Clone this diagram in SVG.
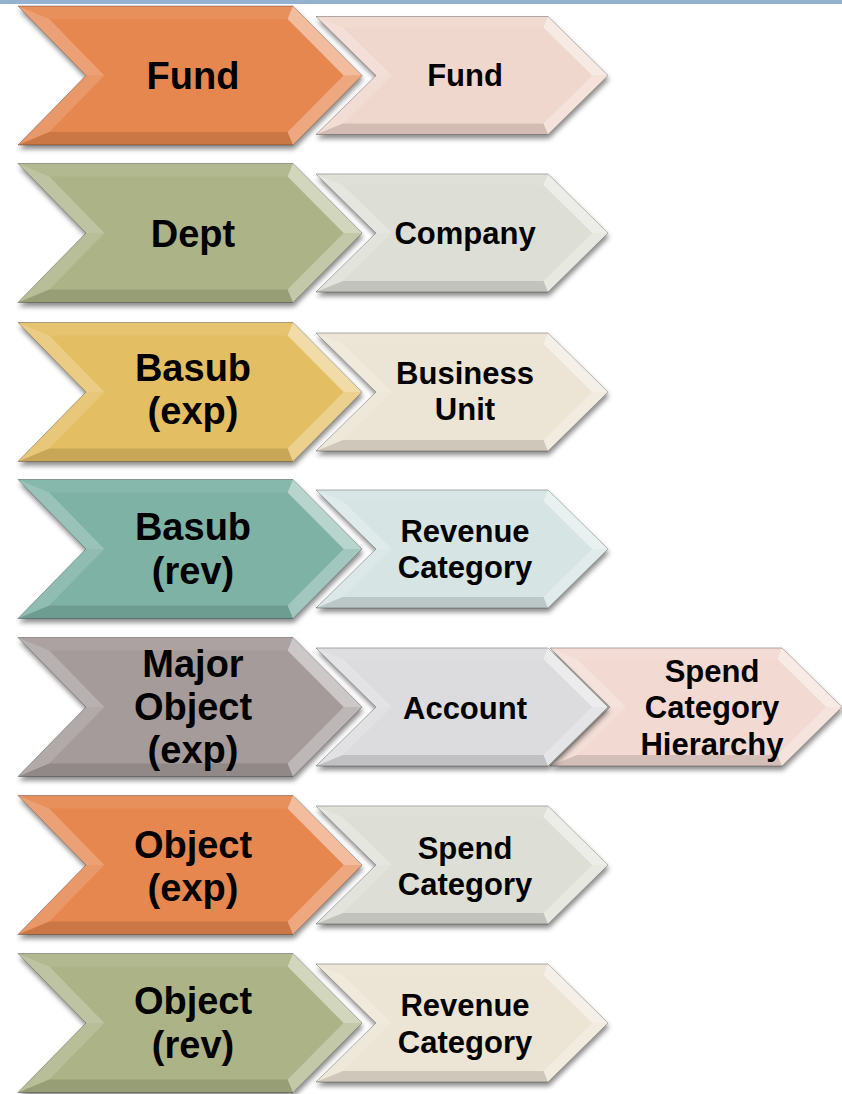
<svg xmlns="http://www.w3.org/2000/svg" xmlns:xlink="http://www.w3.org/1999/xlink" width="842" height="1094" viewBox="0 0 842 1094">
<style>
.t{font-family:"Liberation Sans",Arial,sans-serif;font-weight:bold;fill:#000;text-anchor:middle}
.big{font-size:38px}
.sm{font-size:31px}
.base{stroke:#000;stroke-opacity:0.3;stroke-width:1;filter:url(#sh)}
.hl1{fill:#fff;fill-opacity:0.45}
.hl2{fill:#fff;fill-opacity:0.28}
.hl4{fill:#fff;fill-opacity:0.22}
.hl3{fill:#fff;fill-opacity:0.15}
.hl0{fill:#fff;fill-opacity:0.08}
.dk{fill:#000;fill-opacity:0.12}
.orange{fill:#E6874F}
.olive{fill:#ACB487}
.gold{fill:#E4BE64}
.teal{fill:#7DB2A5}
.mauve{fill:#A59B9B}
.pink{fill:#F0D7CD}
.greylt{fill:#DDDFD6}
.cream{fill:#ECE4D4}
.aqua{fill:#D6E4E4}
.silver{fill:#DCDCDE}
.pink2{fill:#F2DAD2}
</style>
<defs>
<filter id="sh" x="-5%" y="-10%" width="112%" height="130%">
<feDropShadow dx="1" dy="4" stdDeviation="2.5" flood-color="#000" flood-opacity="0.45"/>
</filter>
<path id="bigShape" d="M18,-69.5 L293,-69.5 L362,0 L293,69.5 L18,69.5 L86,0 Z"/>
<g id="bigBevel">
<path class="hl0" d="M18,-69.5 L293,-69.5 L287.6,-56.5 L49.2,-56.5 Z"/>
<path class="hl1" d="M293,-69.5 L362,0 L343.7,0 L287.6,-56.5 Z"/>
<path class="hl2" d="M362,0 L293,69.5 L287.6,56.5 L343.7,0 Z"/>
<path class="dk" d="M293,69.5 L18,69.5 L49.2,56.5 L287.6,56.5 Z"/>
<path class="hl3" d="M18,69.5 L86,0 L104.3,0 L49.2,56.5 Z"/>
<path class="hl4" d="M86,0 L18,-69.5 L49.2,-56.5 L104.3,0 Z"/>
</g>
<path id="smShape" d="M316,-59 L548,-59 L608,0 L548,59 L316,59 L376,0 Z"/>
<g id="smBevel">
<path class="hl0" d="M316,-59 L548,-59 L543.5,-48 L342.9,-48 Z"/>
<path class="hl1" d="M548,-59 L608,0 L592.3,0 L543.5,-48 Z"/>
<path class="hl2" d="M608,0 L548,59 L543.5,48 L592.3,0 Z"/>
<path class="dk" d="M548,59 L316,59 L342.9,48 L543.5,48 Z"/>
<path class="hl3" d="M316,59 L376,0 L391.7,0 L342.9,48 Z"/>
<path class="hl4" d="M376,0 L316,-59 L342.9,-48 L391.7,0 Z"/>
</g>
</defs>
<rect x="0" y="0" width="842" height="4" fill="#95B3D0"/>
<g id="connectors"/>

<!-- Row 1 -->
<g id="fund-target">
<g transform="translate(0,75.5)"><use xlink:href="#smShape" class="base pink"/><use xlink:href="#smBevel"/></g>
<text class="t sm" x="465" y="86">Fund</text>
</g>
<g id="fund-source">
<g transform="translate(0,75.5)"><use xlink:href="#bigShape" class="base orange"/><use xlink:href="#bigBevel"/></g>
<text class="t big" x="193" y="89">Fund</text>
</g>

<!-- Row 2 -->
<g id="company-target">
<g transform="translate(0,233)"><use xlink:href="#smShape" class="base greylt"/><use xlink:href="#smBevel"/></g>
<text class="t sm" x="465" y="244">Company</text>
</g>
<g id="dept-source">
<g transform="translate(0,233)"><use xlink:href="#bigShape" class="base olive"/><use xlink:href="#bigBevel"/></g>
<text class="t big" x="193" y="247">Dept</text>
</g>

<!-- Row 3 -->
<g id="business-unit-target">
<g transform="translate(0,392)"><use xlink:href="#smShape" class="base cream"/><use xlink:href="#smBevel"/></g>
<text class="t sm" x="465" y="384">Business</text>
<text class="t sm" x="465" y="420">Unit</text>
</g>
<g id="basub-exp-source">
<g transform="translate(0,392)"><use xlink:href="#bigShape" class="base gold"/><use xlink:href="#bigBevel"/></g>
<text class="t big" x="193" y="381">Basub</text>
<text class="t big" x="193" y="424">(exp)</text>
</g>

<!-- Row 4 -->
<g id="revenue-category-target-1">
<g transform="translate(0,549)"><use xlink:href="#smShape" class="base aqua"/><use xlink:href="#smBevel"/></g>
<text class="t sm" x="465" y="542">Revenue</text>
<text class="t sm" x="465" y="578">Category</text>
</g>
<g id="basub-rev-source">
<g transform="translate(0,549)"><use xlink:href="#bigShape" class="base teal"/><use xlink:href="#bigBevel"/></g>
<text class="t big" x="193" y="540">Basub</text>
<text class="t big" x="193" y="584">(rev)</text>
</g>

<!-- Row 5 -->
<g id="spend-category-hierarchy-target">
<g transform="translate(234,707)"><use xlink:href="#smShape" class="base pink2"/><use xlink:href="#smBevel"/></g>
<text class="t sm" x="712" y="682">Spend</text>
<text class="t sm" x="712" y="718">Category</text>
<text class="t sm" x="712" y="755">Hierarchy</text>
</g>
<g id="account-target">
<g transform="translate(0,707)"><use xlink:href="#smShape" class="base silver"/><use xlink:href="#smBevel"/></g>
<text class="t sm" x="465" y="719">Account</text>
</g>
<g id="major-object-exp-source">
<g transform="translate(0,707)"><use xlink:href="#bigShape" class="base mauve"/><use xlink:href="#bigBevel"/></g>
<text class="t big" x="193" y="677">Major</text>
<text class="t big" x="193" y="720">Object</text>
<text class="t big" x="193" y="763">(exp)</text>
</g>

<!-- Row 6 -->
<g id="spend-category-target">
<g transform="translate(0,865)"><use xlink:href="#smShape" class="base greylt"/><use xlink:href="#smBevel"/></g>
<text class="t sm" x="465" y="859">Spend</text>
<text class="t sm" x="465" y="895">Category</text>
</g>
<g id="object-exp-source">
<g transform="translate(0,865)"><use xlink:href="#bigShape" class="base orange"/><use xlink:href="#bigBevel"/></g>
<text class="t big" x="193" y="858">Object</text>
<text class="t big" x="193" y="901">(exp)</text>
</g>

<!-- Row 7 -->
<g id="revenue-category-target-2">
<g transform="translate(0,1023)"><use xlink:href="#smShape" class="base cream"/><use xlink:href="#smBevel"/></g>
<text class="t sm" x="465" y="1016">Revenue</text>
<text class="t sm" x="465" y="1053">Category</text>
</g>
<g id="object-rev-source">
<g transform="translate(0,1023)"><use xlink:href="#bigShape" class="base olive"/><use xlink:href="#bigBevel"/></g>
<text class="t big" x="193" y="1014">Object</text>
<text class="t big" x="193" y="1058">(rev)</text>
</g>
</svg>
